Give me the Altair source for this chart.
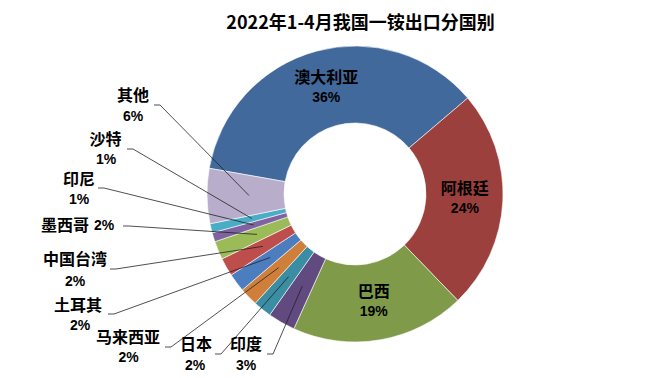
import math
import altair as alt
import pandas as pd

title = "2022年1-4月我国一铵出口分国别"
names = ["澳大利亚", "阿根廷", "巴西", "印度", "日本", "马来西亚", "土耳其",
         "中国台湾", "墨西哥", "印尼", "沙特", "其他"]
values = [36, 24, 19, 3, 2, 2, 2, 2, 2, 1, 1, 6]
colors = ["#41699B", "#9C403E", "#7F9A48", "#604A80", "#3A8DA3", "#D07F3A",
          "#4C7DBF", "#BE4E4B", "#9BBB59", "#7F63A1", "#4AACC5", "#B8ADCA"]
inside = [True, True, True] + [False] * 9

# label layout for the outside labels (canvas px); NaN for inside labels
NA = float("nan")
name_x = [NA, NA, NA, 238, 188, 120, 70, 67, 57, 71, 97.5, 125]
name_y = [NA, NA, NA, 337, 337, 330, 298, 252, 218, 172, 131.5, 87.5]
pct_x = [NA, NA, NA, 238, 187, 120.5, 72, 67, 96, 71, 98, 125]
pct_y = [NA, NA, NA, 358, 358, 350, 318, 273.5, 218, 192, 152, 109]
line_x = [NA, NA, NA, 259, 207, 157, 100, 102, 115, 90, 119, 146]
line_y = [NA, NA, NA, 346, 346, 339, 306, 261, 218, 180, 141, 97]

PAD = 30
W, H = 643, 370 - PAD
CX, CY = 347, 186
R_IN, R_OUT = 71, 148
START = math.radians(-80)

df = pd.DataFrame({
    "idx": list(range(len(names))),
    "name": names,
    "value": values,
    "inside": inside,
    "name_x": name_x, "name_y": name_y,
    "pct_x": pct_x, "pct_y": pct_y,
    "line_x": line_x, "line_y": line_y,
})

xs = alt.Scale(domain=[0, W], range=[0, W])
ys = alt.Scale(domain=[PAD, H + PAD], range=[0, H])

base = alt.Chart(df).transform_window(
    cum="sum(value)", sort=[alt.SortField("idx")], frame=[None, 0]
).transform_joinaggregate(
    total="sum(value)"
).transform_calculate(
    ang=f"{START} + (datum.cum - datum.value / 2) / datum.total * 2 * PI",
    pct="datum.value + '%'",
).transform_calculate(
    ix=f"{CX} + 110 * sin(datum.ang)",
    iy=f"{CY} - 110 * cos(datum.ang)",
    ax=f"{CX} + 106 * sin(datum.ang)",
    ay=f"{CY} - 106 * cos(datum.ang)",
    ex="datum.line_x + 6",
)

arcs = alt.Chart(df).mark_arc(
    innerRadius=R_IN, outerRadius=R_OUT, stroke="white", strokeWidth=0.6
).encode(
    theta=alt.Theta("value:Q", stack=True,
                    scale=alt.Scale(range=[START, START + 2 * math.pi])),
    order=alt.Order("idx:Q", sort="ascending"),
    color=alt.Color("name:N", scale=alt.Scale(domain=names, range=colors), legend=None),
    x=alt.value(CX),
    y=alt.value(CY - PAD),
)

name_font = dict(font="Noto Sans CJK SC", fontSize=16, fontWeight="bold", color="#000000")
pct_font = dict(font="Liberation Sans", fontSize=14, fontWeight="bold", color="#000000")

in_names = base.transform_filter("datum.inside").mark_text(dy=-10, **name_font).encode(
    x=alt.X("ix:Q", scale=xs, axis=None), y=alt.Y("iy:Q", scale=ys, axis=None), text="name:N")
in_pcts = base.transform_filter("datum.inside").mark_text(dy=10, **pct_font).encode(
    x=alt.X("ix:Q", scale=xs, axis=None), y=alt.Y("iy:Q", scale=ys, axis=None), text="pct:N")

outside = base.transform_filter("!datum.inside")
out_names = outside.mark_text(**name_font).encode(
    x=alt.X("name_x:Q", scale=xs, axis=None), y=alt.Y("name_y:Q", scale=ys, axis=None), text="name:N")
out_pcts = outside.mark_text(**pct_font).encode(
    x=alt.X("pct_x:Q", scale=xs, axis=None), y=alt.Y("pct_y:Q", scale=ys, axis=None), text="pct:N")
elbow = outside.mark_rule(color="#222222", strokeWidth=0.8).encode(
    x=alt.X("line_x:Q", scale=xs, axis=None), y=alt.Y("line_y:Q", scale=ys, axis=None),
    x2="ex:Q", y2="line_y:Q")
leader = outside.mark_rule(color="#222222", strokeWidth=0.8).encode(
    x=alt.X("ex:Q", scale=xs, axis=None), y=alt.Y("line_y:Q", scale=ys, axis=None),
    x2="ax:Q", y2="ay:Q")

chart = alt.layer(
    arcs, elbow, leader, in_names, in_pcts, out_names, out_pcts
).properties(
    width=W, height=H, padding={"top": PAD, "left": 0, "right": 0, "bottom": 0},
    autosize=alt.AutoSizeParams(type="none"),
    background="white",
    title=alt.TitleParams(
        text=title, font="Noto Sans CJK SC", fontSize=18, fontWeight="bold",
        color="#000000", anchor="middle", baseline="middle", dx=31, offset=PAD - 13,
        dy=20.5,
    ),
).configure_view(stroke=None)

chart.save("out.html", embed_options={"renderer": "svg", "actions": False})
